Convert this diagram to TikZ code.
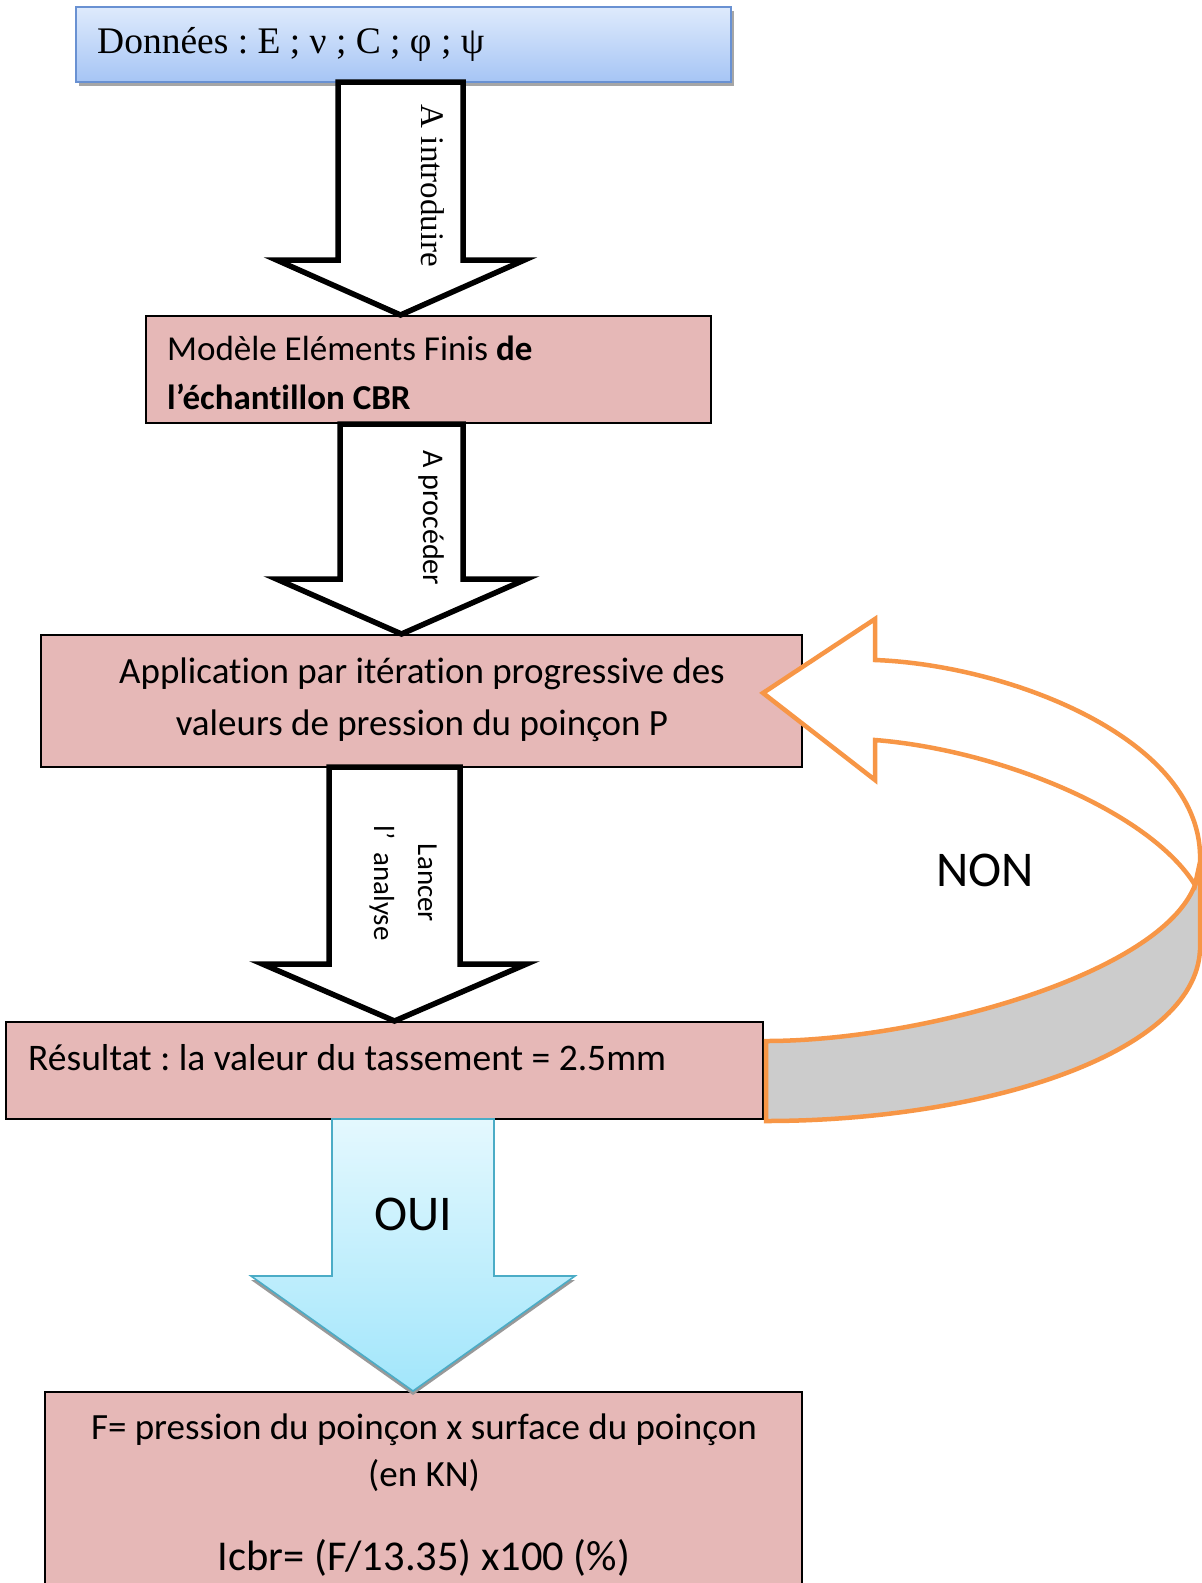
\documentclass[tikz,border=0pt]{standalone}
\usepackage{fontspec}
\setmainfont{Carlito}[Ligatures=NoCommon]
\newfontfamily\timesfont{Liberation Serif}
\usetikzlibrary{calc}

\definecolor{boxpink}{RGB}{230,184,183}
\definecolor{bluetop}{RGB}{222,234,252}
\definecolor{bluebot}{RGB}{166,197,245}
\definecolor{blueedge}{RGB}{105,145,210}
\definecolor{cyantop}{RGB}{228,248,254}
\definecolor{cyanbot}{RGB}{162,230,251}
\definecolor{cyanedge}{RGB}{75,172,198}
\definecolor{loopedge}{RGB}{247,150,70}
\definecolor{loopback}{RGB}{204,204,204}

% block arrow pointing down: style, top point, tip point,
% shaft half width, head half width, head length
\newcommand{\blockarrow}[6]{%
  \path[#1] let \p1=(#2), \p2=(#3) in
    (\x1-#4pt,\y1) -- (\x1+#4pt,\y1) -- (\x1+#4pt,\y2+#6pt)
    -- (\x1+#5pt,\y2+#6pt) -- (\x1,\y2) -- (\x1-#5pt,\y2+#6pt)
    -- (\x1-#4pt,\y2+#6pt) -- cycle;}

\tikzset{
  stepbox/.style={draw=black, line width=1.5pt, fill=boxpink,
    rectangle, inner sep=0pt},
  bigarrow/.style={draw=black, line width=5.5pt, fill=white,
    line join=miter, miter limit=10},
  ouiarrow/.style={top color=cyantop, bottom color=cyanbot,
    draw=cyanedge, line width=1.6pt, line join=miter, miter limit=10},
  ouishadow/.style={fill=black!40, draw=none},
  loopstroke/.style={draw=loopedge, line width=4.5pt, line join=miter,
    miter limit=10},
  body/.style={inner sep=0pt, font=\fontsize{37}{44}\selectfont},
  bodysmall/.style={inner sep=0pt, font=\fontsize{35}{42}\selectfont},
  bigword/.style={inner sep=0pt, font=\fontsize{50}{60}\selectfont},
}

\begin{document}
\frenchspacing
\begin{tikzpicture}[x=1pt,y=-1pt]
\useasboundingbox (0,0) rectangle (1202,1583);

% --- boxes ---
\fill[black!35] (79,11) rectangle (734,86);
\node[draw=blueedge, line width=1.5pt, top color=bluetop, bottom color=bluebot,
      minimum width=655, minimum height=75, inner sep=0pt] (b1) at (403.5,44.5) {};
\node[stepbox, minimum width=565, minimum height=107] (b2) at (428.5,369.5) {};
\node[stepbox, minimum width=761, minimum height=132] (b3) at (421.5,701) {};
\node[stepbox, minimum width=757, minimum height=97]  (b4) at (384.5,1070.5) {};
\node[stepbox, minimum width=757, minimum height=208] (b5) at (423.5,1496) {};

% --- texts in boxes ---
\node[inner sep=0pt, anchor=mid west, font=\timesfont\fontsize{37.5}{44}\selectfont]
  (t1) at (97,51) {Données : E ; ν ; C ; φ ; ψ};
\node[bodysmall, anchor=mid west] (t2a) at (167,358) {Modèle Eléments Finis \textbf{de}};
\node[bodysmall, anchor=mid west] (t2b) at (167,407) {\textbf{l’échantillon CBR}};
\node[body, anchor=mid] (t3a) at (422,681) {Application par itération progressive des};
\node[body, anchor=mid] (t3b) at (422,733) {valeurs de pression du poinçon P};
\node[inner sep=0pt, anchor=mid west, font=\fontsize{37.5}{44}\selectfont]
  (t4) at (28,1068) {Résultat : la valeur du tassement = 2.5mm};
\node[body, anchor=mid] (t5a) at (424,1437) {F= pression du poinçon x surface du poinçon};
\node[body, anchor=mid] (t5b) at (424,1484) {(en KN)};
\node[inner sep=0pt, anchor=mid, font=\fontsize{42.5}{50}\selectfont]
  (t5c) at (424,1568) {Icbr= (F/13.35) x100 (\%)};

% --- downward block arrows ---
\coordinate (a1top) at (400.5,82);   \coordinate (a1tip) at (400.5,315);
\coordinate (a2top) at (401.5,424);  \coordinate (a2tip) at (401.5,634);
\coordinate (a3top) at (394.5,767);  \coordinate (a3tip) at (394.5,1021);
\coordinate (a4top) at (413,1119);   \coordinate (a4tip) at (413,1391);
\coordinate (a4stop) at (413,1123);  \coordinate (a4stip) at (413,1395);

\blockarrow{bigarrow}{a1top}{a1tip}{62.5}{124}{55}
\blockarrow{bigarrow}{a2top}{a2tip}{61.5}{125}{55}
\blockarrow{bigarrow}{a3top}{a3tip}{65.5}{132}{57}
\blockarrow{ouishadow}{a4stop}{a4stip}{81}{162}{115}
\blockarrow{ouiarrow}{a4top}{a4tip}{81}{162}{115}

% --- labels on arrows ---
\node[rotate=-90, inner sep=0pt, font=\timesfont\fontsize{33}{40}\selectfont]
  (l1) at (433,186) {A introduire};
\node[rotate=-90, inner sep=0pt, font=\fontsize{30}{36}\selectfont]
  (l2) at (431,518) {A procéder};
\node[rotate=-90, inner sep=0pt, align=center, font=\fontsize{29}{44}\selectfont]
  (l3) at (403,883) {Lancer\\l’\ \ analyse};
\node[bigword] (oui) at (413,1214) {OUI};

% --- return loop (NON) ---
\coordinate (looptip) at (763,693);
\coordinate (looptail) at (766,1041);
\path[fill=loopback, loopstroke]
  (1195,885) -- (1200,864) -- (1200,950)
  .. controls (1195,1055) and (980,1121) .. (766,1121)
  -- (looptail)
  .. controls (920,1041) and (1160,975) .. (1195,885) -- cycle;
\path[fill=white, loopstroke]
  (looptip) -- (875,619) -- (875,660)
  .. controls (1010,665) and (1205,740) .. (1200,862)
  -- (1195,885)
  .. controls (1150,812) and (1000,750) .. (875,740)
  -- (875,780) -- cycle;
\node[bigword] (non) at (985,870) {NON};

\end{tikzpicture}
\end{document}
